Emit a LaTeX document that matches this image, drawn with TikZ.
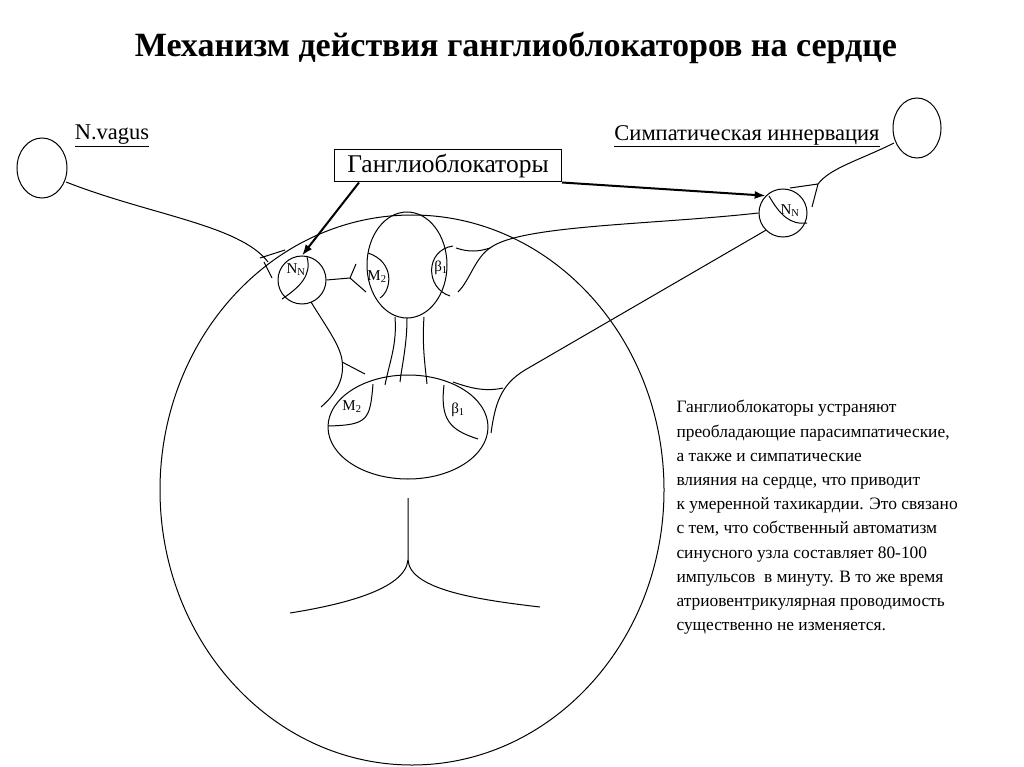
\documentclass[tikz,border=0pt]{standalone}
\usepackage{fontspec}
\setmainfont{Liberation Serif}
\usetikzlibrary{arrows.meta}
\begin{document}
\begin{tikzpicture}[x=1pt,y=-1pt,line width=1pt,
  lab/.style={inner sep=0pt,font=\fontsize{15}{15}\selectfont},
  arr/.style={line width=2pt,-{Latex[length=11pt,width=8pt]}}]
\useasboundingbox (0,0) rectangle (1024,767);
\node[font=\bfseries\fontsize{34}{34}\selectfont] (title) at (516,48) {Механизм действия ганглиоблокаторов на сердце};
% outer nerve cells
\draw (42,168) ellipse (25 and 30);
\draw (917,128) ellipse (24 and 30);
\node[font=\fontsize{22.5}{22.5}\selectfont,inner sep=0pt] (vag) at (112,136) {\underline{N.vagus}};
\node[font=\fontsize{22.5}{22.5}\selectfont,inner sep=0pt] (sym) at (747,136) {\underline{Симпатическая иннервация}};
% box
\node[draw,line width=1pt,minimum width=227pt,minimum height=32pt,font=\fontsize{25.5}{25.5}\selectfont] (gb) at (448,166) {Ганглиоблокаторы};
% ganglia
\node[circle,draw,minimum size=48pt,inner sep=0pt] (gl) at (302,280) {};
\node[circle,draw,minimum size=48pt,inner sep=0pt] (gr) at (783,213) {};
\draw (307,257) .. controls (312,275) and (300,287) .. (282,299);
\draw (769,196) .. controls (780,215) and (790,225) .. (807,223);
\node[lab] at (296,270) {N\textsubscript{N}};
\node[lab] at (790,211) {N\textsubscript{N}};
% arrows
\draw[arr] (gb.south west)++(25,0) -- (gl.north);
\draw[arr] (gb.south east) -- (gr.north west);
% vagus
\draw (66,182) .. controls (150,215) and (240,225) .. (268,262);
\draw (260,258) -- (285,250);
\draw (264,262) -- (272,278);
% sympathetic
\draw (894,143) .. controls (860,160) and (830,168) .. (818,184);
\draw (818,184) -- (790,188);
\draw (818,184) -- (812,207);
% heart
\draw (412,490) ellipse (252 and 275);
\draw (407,265) ellipse (40 and 53);
\draw (408,427) ellipse (80 and 52);
\draw (368,253) .. controls (395,262) and (392,290) .. (380,298);
\draw (453,246) .. controls (425,250) and (425,288) .. (450,296);
\node[lab] at (377,277) {M\textsubscript{2}};
\node[lab] at (441,268) {β\textsubscript{1}};
\draw (373,384) .. controls (370,420) and (368,425) .. (328,426);
\draw (444,385) .. controls (440,420) and (450,430) .. (478,439);
\node[lab] at (352,407) {M\textsubscript{2}};
\node[lab] at (458,410) {β\textsubscript{1}};
% connections
\draw (395,317) .. controls (397,345) and (390,360) .. (385,385);
\draw (407,318) .. controls (407,345) and (402,365) .. (400,382);
\draw (424,317) .. controls (422,345) and (425,365) .. (427,384);
% left ganglion branches
\draw (gl.east) -- (350,278);
\draw (350,278) -- (356,264);
\draw (350,278) -- (366,292);
\draw (311,302) .. controls (325,325) and (340,345) .. (342,360) .. controls (345,380) and (335,395) .. (321,407);
\draw (342,362) -- (365,374);
% right ganglion branches
\draw (gr.west) .. controls (650,225) and (520,225) .. (490,248) .. controls (475,258) and (470,280) .. (458,292);
\draw (490,248) .. controls (478,252) and (468,252) .. (456,248);
\draw (gr.south west) -- (525,370) .. controls (500,385) and (495,405) .. (491,433);
\draw (503,388) .. controls (485,392) and (470,388) .. (453,382);
% bottom
\draw (408,498) -- (408,560) .. controls (405,590) and (340,605) .. (290,613);
\draw (408,560) .. controls (410,590) and (480,600) .. (540,607);
% text
\node[align=left,anchor=north west,inner sep=0pt,font=\fontsize{17.4}{24.2}\selectfont] (txt) at (676,400) {Ганглиоблокаторы устраняют\\преобладающие парасимпатические,\\а также и симпатические\\влияния на сердце, что приводит\\к умеренной тахикардии. Это связано\\с тем, что собственный автоматизм\\синусного узла составляет 80-100\\импульсов \ в минуту. В то же время\\атриовентрикулярная проводимость\\существенно не изменяется.};
\end{tikzpicture}
\end{document}
